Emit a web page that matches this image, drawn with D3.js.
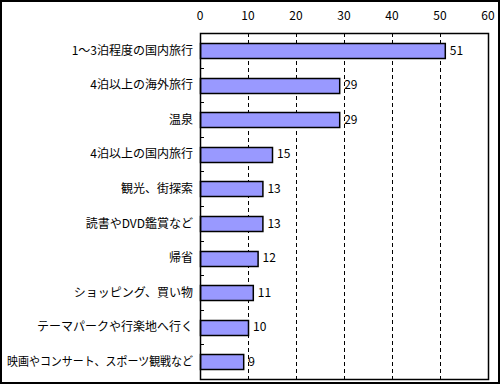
<!DOCTYPE html>
<html>
<head>
<meta charset="utf-8">
<script src="https://cdn.jsdelivr.net/npm/d3@7"></script>
<style>
  body { margin: 0; background: #fff; }
  text { font-family: "Noto Sans CJK JP", sans-serif; font-size: 12px; fill: #000; }
</style>
</head>
<body>
<div id="chart"></div>
<script>
// data
const categories = [
    "1～3泊程度の国内旅行",
    "4泊以上の海外旅行",
    "温泉",
    "4泊以上の国内旅行",
    "観光、街探索",
    "読書やDVD鑑賞など",
    "帰省",
    "ショッピング、買い物",
    "テーマパークや行楽地へ行く",
    "映画やコンサート、スポーツ観戦など"
];
const values = [51, 29, 29, 15, 13, 13, 12, 11, 10, 9];
const xTicks = [0, 10, 20, 30, 40, 50, 60];

const width = 500, height = 385;
const margin = {top: 33, right: 12, bottom: 6, left: 200};

const svg = d3.select("#chart").append("svg")
    .attr("width", width)
    .attr("height", height);

// outer frame
svg.append("rect")
    .attr("x", 1).attr("y", 1)
    .attr("width", width - 2).attr("height", height - 3)
    .attr("fill", "none")
    .attr("stroke", "black")
    .attr("stroke-width", 2);

let xScale = d3.scaleLinear()
    .domain([0, 60])
    .range([margin.left, width - margin.right]);

let yScale = d3.scaleBand()
    .domain(categories)
    .range([margin.top, height - margin.bottom])
    .paddingInner(0.58)
    .paddingOuter(0.29);

let plotBottom = height - margin.bottom;

// dashed gridlines
svg.append("g")
    .selectAll("line")
    .data(xTicks.filter(d => d > 0 && d < 60))
    .enter()
    .append("line")
    .attr("x1", d => Math.round(xScale(d)) + 0.5)
    .attr("x2", d => Math.round(xScale(d)) + 0.5)
    .attr("y1", margin.top)
    .attr("y2", plotBottom)
    .style("stroke", "black")
    .style("stroke-dasharray", "4,3");

// top tick labels
svg.append("g")
    .selectAll("text")
    .data(xTicks)
    .enter()
    .append("text")
    .attr("x", d => xScale(d))
    .attr("y", 20)
    .attr("text-anchor", "middle")
    .text(d => d);

// bars
svg.append("g")
    .selectAll("rect")
    .data(values)
    .enter()
    .append("rect")
    .attr("x", xScale(0) + 0.5)
    .attr("y", (d, i) => Math.round(yScale(categories[i])) + 0.5)
    .attr("width", d => xScale(d) - xScale(0))
    .attr("height", Math.round(yScale.bandwidth()))
    .attr("fill", "#9999ff")
    .attr("stroke", "black")
    .attr("stroke-width", 1.5);

// value labels
svg.append("g")
    .selectAll("text")
    .data(values)
    .enter()
    .append("text")
    .attr("x", d => xScale(d) + 5)
    .attr("y", (d, i) => yScale(categories[i]) + yScale.bandwidth() / 2)
    .attr("dy", "0.36em")
    .text(d => d);

// category labels
let maxLabel = margin.left - 14;
svg.append("g")
    .selectAll("text")
    .data(categories)
    .enter()
    .append("text")
    .attr("x", margin.left - 7)
    .attr("y", d => yScale(d) + yScale.bandwidth() / 2)
    .attr("dy", "0.36em")
    .attr("text-anchor", "end")
    .text(d => d)
    .each(function() {
        // squeeze labels that would run off the left edge
        if (this.getComputedTextLength() > maxLabel) {
            d3.select(this)
                .attr("textLength", maxLabel)
                .attr("lengthAdjust", "spacingAndGlyphs");
        }
    });

// category tick marks at band boundaries (inside)
let step = yScale.step();
svg.append("g")
    .selectAll("line")
    .data(categories.slice(1))
    .enter()
    .append("line")
    .attr("x1", margin.left)
    .attr("x2", margin.left + 4)
    .attr("y1", (d, i) => Math.round(margin.top + step * (i + 1)) + 0.5)
    .attr("y2", (d, i) => Math.round(margin.top + step * (i + 1)) + 0.5)
    .style("stroke", "black");

// plot border
svg.append("rect")
    .attr("x", margin.left + 0.5)
    .attr("y", margin.top + 0.5)
    .attr("width", width - margin.right - margin.left)
    .attr("height", plotBottom - margin.top)
    .attr("fill", "none")
    .attr("stroke", "black")
    .attr("stroke-width", 1.5);
</script>
</body>
</html>
